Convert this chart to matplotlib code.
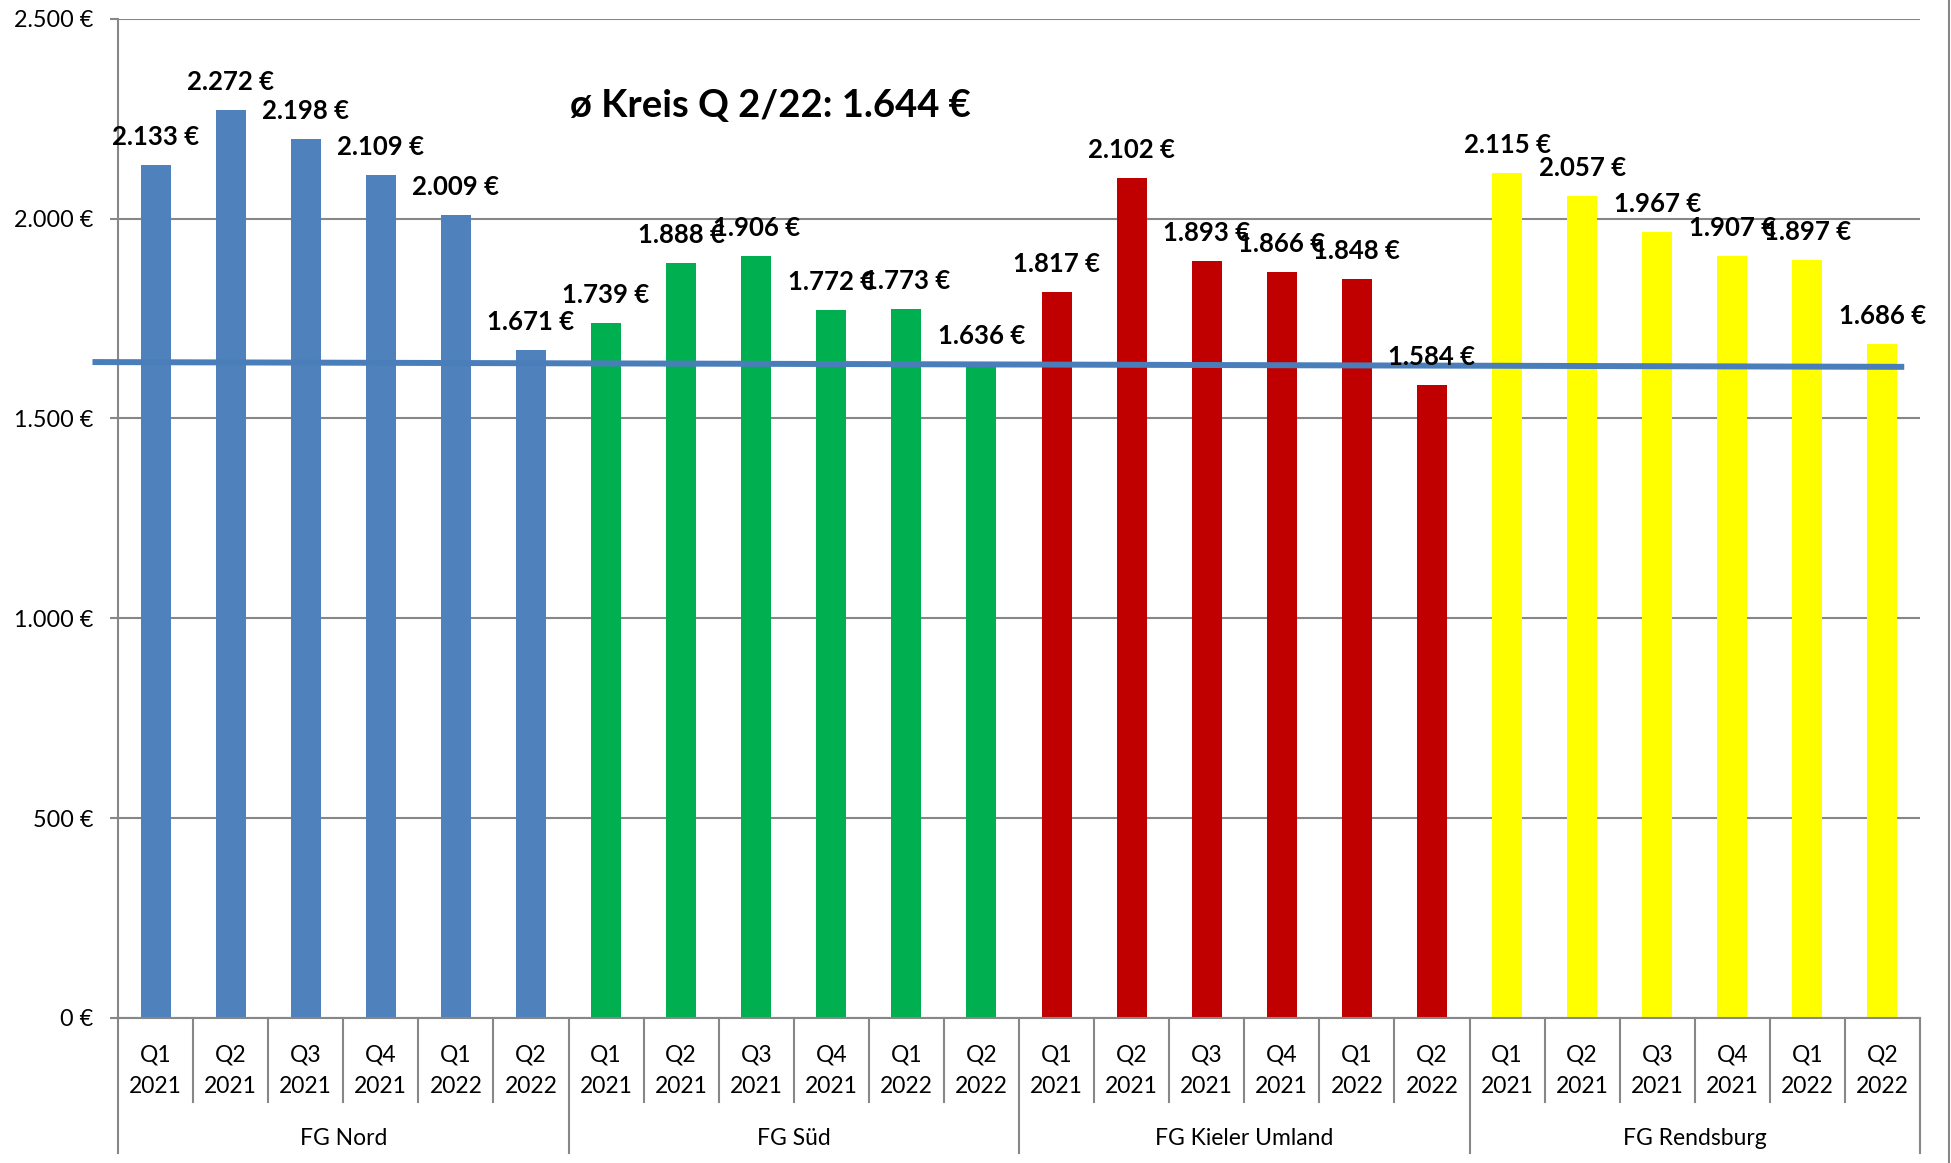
import matplotlib
matplotlib.use("Agg")
import matplotlib.pyplot as plt
from matplotlib.lines import Line2D
from matplotlib.ticker import FuncFormatter, MultipleLocator
import matplotlib.transforms as mtransforms

plt.rcParams['font.family'] = ['Lato', 'DejaVu Sans']

# ---------------- data ----------------
groups = ["FG Nord", "FG Süd", "FG Kieler Umland", "FG Rendsburg"]
quarters = ["Q1", "Q2", "Q3", "Q4", "Q1", "Q2"]
years = ["2021", "2021", "2021", "2021", "2022", "2022"]
nord = [2133, 2272, 2198, 2109, 2009, 1671]
sued = [1739, 1888, 1906, 1772, 1773, 1636]
kiel = [1817, 2102, 1893, 1866, 1848, 1584]
rendsburg = [2115, 2057, 1967, 1907, 1897, 1686]
group_colors = ["#4F81BD", "#00B050", "#C00000", "#FFFF00"]
title_text = "ø Kreis Q 2/22: 1.644 €"
# hand-drawn average line (start/end values as in the picture)
avg_line_x = [-0.84, 23.29]
avg_line_y = [1641, 1629]

series = [nord, sued, kiel, rendsburg]

W, H = 1951, 1163
fig = plt.figure(figsize=(W / 100, H / 100), dpi=100)
left, right, top, bottom = 118, 1920, 18.7, 1018
ax = fig.add_axes([left / W, 1 - bottom / H, (right - left) / W, (bottom - top) / H])

gray = "#878787"
n_per = len(quarters)
xs_all, vals_all, cols_all = [], [], []
for gi, vals in enumerate(series):
    for qi, v in enumerate(vals):
        xs_all.append(gi * n_per + qi)
        vals_all.append(v)
        cols_all.append(group_colors[gi])

ax.bar(xs_all, vals_all, width=0.4, color=cols_all, zorder=2)

for x, v in zip(xs_all, vals_all):
    ax.annotate(f"{v:,}".replace(",", ".") + " €", (x, v), xytext=(0, 14.4),
                textcoords="offset points", ha="center", va="baseline",
                fontsize=18.5, fontweight="bold", color="black", zorder=5)

ax.plot(avg_line_x, avg_line_y, color="#4A7EBB", lw=4.3, zorder=4,
        clip_on=False, solid_capstyle="butt")

n = len(xs_all)
ax.set_xlim(-0.5, n - 0.5)
ax.set_ylim(0, 2500)
ax.yaxis.set_major_locator(MultipleLocator(500))
ax.yaxis.set_major_formatter(FuncFormatter(lambda v, p: f"{int(v):,}".replace(",", ".") + " €"))
ax.grid(axis="y", color=gray, lw=1.5, zorder=0)
ax.set_axisbelow(True)
for s in ["top", "right"]:
    ax.spines[s].set_visible(False)
for s in ["left", "bottom"]:
    ax.spines[s].set_color(gray)
    ax.spines[s].set_linewidth(1.5)
ax.tick_params(axis="y", length=6, width=1.5, color=gray, pad=12, labelsize=16.8)
ax.set_xticks([])

ah = bottom - top
trans = mtransforms.blended_transform_factory(ax.transData, ax.transAxes)
# category separators
for k in range(n + 1):
    xb = k - 0.5
    ybot = -135 / ah if k % n_per == 0 else -83.7 / ah
    ax.add_line(Line2D([xb, xb], [0, ybot], transform=trans, color=gray, lw=1.5, clip_on=False))
for x in xs_all:
    qi = x % n_per
    ax.text(x, -43.7 / ah, quarters[qi], transform=trans, ha="center", va="baseline", fontsize=16.5)
    ax.text(x, -75.0 / ah, years[qi], transform=trans, ha="center", va="baseline", fontsize=16.5)
for gi, g in enumerate(groups):
    ax.text(gi * n_per + (n_per - 1) / 2, -127 / ah, g, transform=trans, ha="center",
            va="baseline", fontsize=16.5)

fig.text(770 / W, 1 - 105.7 / H, title_text, ha="center", va="center", fontsize=27.5, fontweight="bold")

fig.add_artist(Line2D([1949 / W, 1949 / W], [0, 1], transform=fig.transFigure, color=gray, lw=1.5))

fig.savefig("out.png", dpi=100)
